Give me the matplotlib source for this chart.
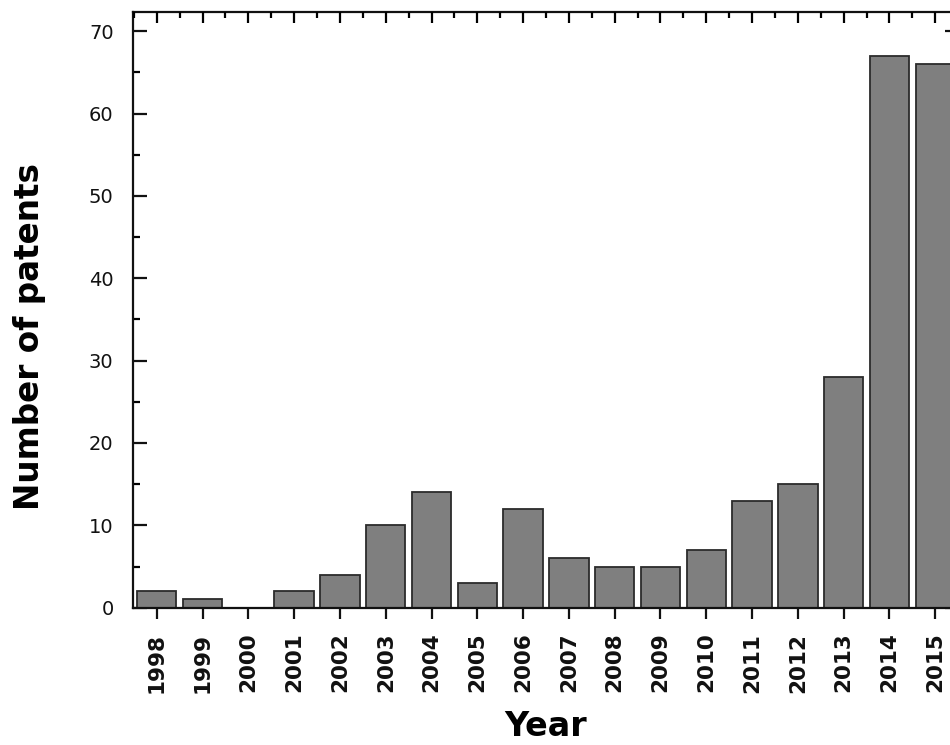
import matplotlib
matplotlib.use("Agg")
import matplotlib.pyplot as plt
import numpy as np
from matplotlib.ticker import MultipleLocator

years = ["1998", "1999", "2000", "2001", "2002", "2003", "2004", "2005", "2006",
         "2007", "2008", "2009", "2010", "2011", "2012", "2013", "2014", "2015"]
patents = [2, 1, 0, 2, 4, 10, 14, 3, 12, 6, 5, 5, 7, 13, 15, 28, 67, 66]

x = np.arange(len(years))

fig = plt.figure(figsize=(9.5, 7.45), dpi=100)
ax = fig.add_axes([0.14, 0.1843, 0.8695, 0.7992])

ax.bar(x, patents, width=0.86, color="#7f7f7f", edgecolor="#2b2b2b", linewidth=1.3, zorder=2)

ax.set_xlim(-0.52, 17.52)
ax.set_ylim(0, 72.3)

for s in ax.spines.values():
    s.set_linewidth(1.6)
    s.set_color("#111111")

# x ticks bottom: outward, labels rotated
ax.set_xticks(x)
ax.set_xticklabels(years, rotation=90, fontsize=15.5, fontweight="bold")
ax.tick_params(axis="x", direction="out", length=8, width=1.6, pad=10, colors="#111111")

# y ticks: inward on both sides
ax.yaxis.set_major_locator(MultipleLocator(10))
ax.yaxis.set_minor_locator(MultipleLocator(5))
ax.tick_params(axis="y", which="major", direction="in", length=10, width=1.6,
               right=True, pad=14, labelsize=14, colors="#111111")
ax.tick_params(axis="y", which="minor", direction="in", length=5, width=1.6, right=True)

# top ticks inward with minors
top = ax.twiny()
top.set_xlim(ax.get_xlim())
top.set_xticks(x)
top.xaxis.set_minor_locator(MultipleLocator(0.5))
top.tick_params(axis="x", which="major", direction="in", length=8, width=1.6, labeltop=False)
top.tick_params(axis="x", which="minor", direction="in", length=4, width=1.6)
for s in top.spines.values():
    s.set_visible(False)

ax.set_ylabel("Number of patents", fontsize=23.5, fontweight="bold")
ax.yaxis.set_label_coords(-0.105, 0.455)
ax.set_xlabel("Year", fontsize=24, fontweight="bold", va="bottom")
ax.xaxis.set_label_coords(0.5, -0.227)

fig.savefig("out.png", dpi=100)
